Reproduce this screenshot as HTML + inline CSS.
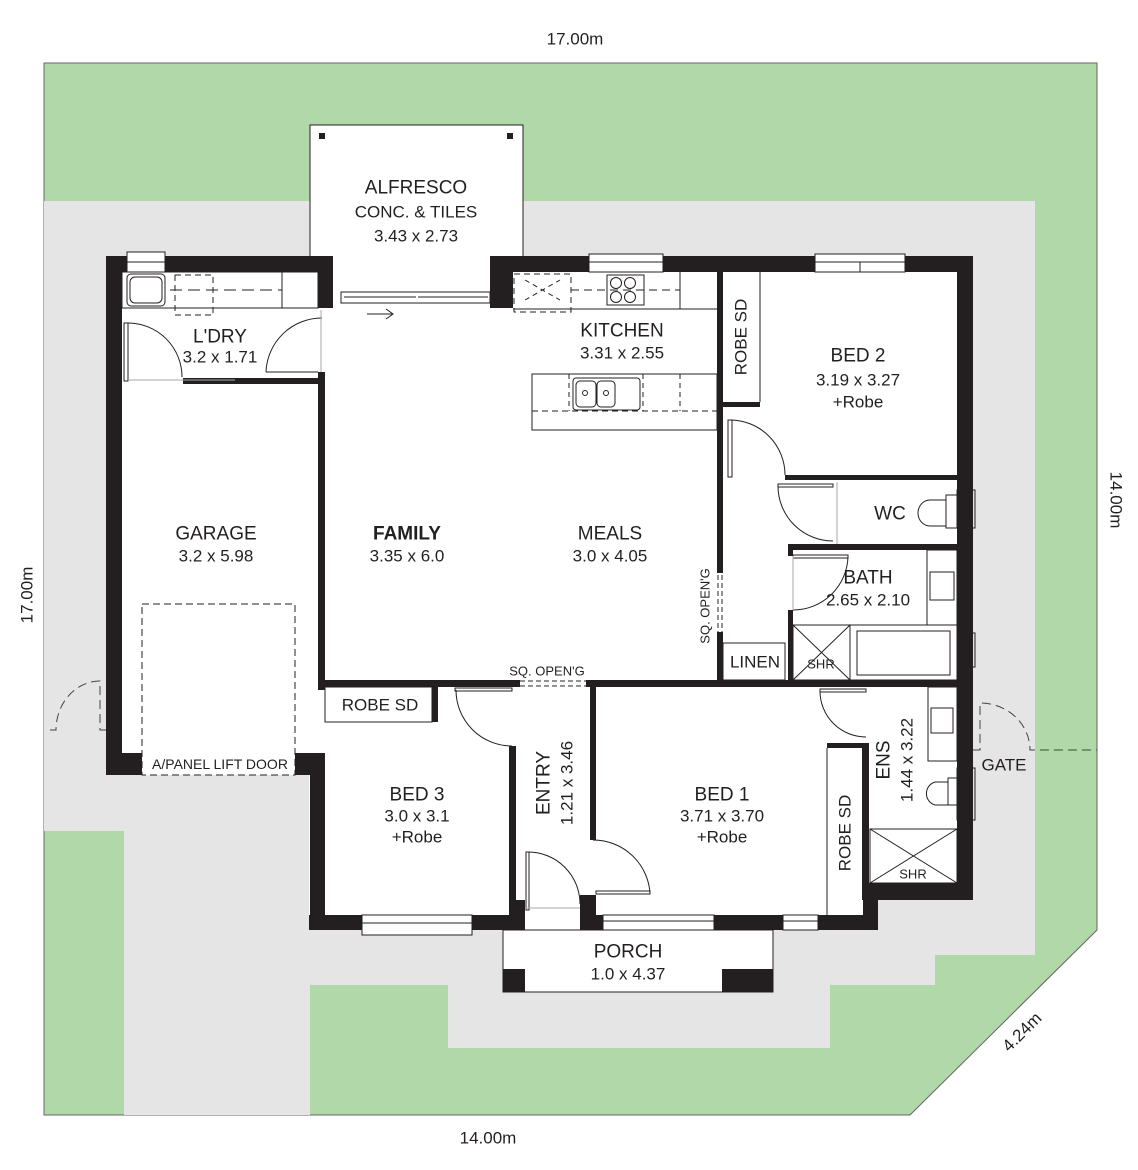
<!DOCTYPE html>
<html><head><meta charset="utf-8"><style>
html,body{margin:0;padding:0;background:#fff;}
svg{display:block;}
text{font-family:"Liberation Sans",sans-serif;fill:#231f20;}
.n{font-size:19px;}
.d{font-size:17px;}
.s{font-size:13px;}
</style></head><body>
<svg width="1138" height="1170" viewBox="0 0 1138 1170" xmlns="http://www.w3.org/2000/svg">
<!-- site -->
<polygon points="44,63 1097,63 1097,930 910,1115 44,1115" fill="#b1d8a8" stroke="#666" stroke-width="1"/>
<!-- grey paving -->
<polygon points="44,201 1035,201 1035,955 935,955 935,985 830,985 830,1048 448,1048 448,985 310,985 310,1115 124,1115 124,831 44,831" fill="#e5e5e5"/>
<!-- alfresco -->
<rect x="310" y="125" width="213" height="140" fill="#fff" stroke="#231f20" stroke-width="1"/>
<rect x="319" y="133" width="6" height="6" fill="#231f20"/>
<rect x="507" y="133" width="6" height="6" fill="#231f20"/>
<!-- house interior -->
<polygon points="106,256 973,256 973,900 878,900 878,930 309,930 309,775 106,775" fill="#fff"/>
<!-- porch -->
<rect x="503" y="930" width="270" height="62" fill="#fff" stroke="#231f20" stroke-width="1"/>
<rect x="503" y="969" width="22" height="23" fill="#231f20"/>
<rect x="722" y="969" width="51" height="23" fill="#231f20"/>
<g fill="#231f20">
<!-- outer walls -->
<rect x="106" y="256" width="227" height="16"/>
<rect x="318" y="256" width="15" height="52"/>
<rect x="490" y="256" width="483" height="16"/>
<rect x="490" y="256" width="23" height="52"/>
<rect x="106" y="256" width="16" height="519"/>
<rect x="106" y="753" width="36" height="22"/>
<rect x="295" y="753" width="23" height="22"/>
<rect x="310" y="753" width="15" height="177"/>
<rect x="309" y="915" width="216" height="15"/>
<rect x="580" y="915" width="298" height="15"/>
<rect x="509" y="900" width="16" height="30"/>
<rect x="580" y="895" width="16" height="35"/>
<rect x="863" y="883" width="15" height="47"/>
<rect x="863" y="883" width="110" height="17"/>
<rect x="957" y="256" width="16" height="644"/>
<!-- interior walls -->
<rect x="183" y="378" width="142" height="6"/>
<rect x="318" y="372" width="7" height="318"/>
<rect x="717" y="272" width="6" height="301"/>
<rect x="717" y="632" width="6" height="55"/>
<rect x="723" y="402" width="37" height="5"/>
<rect x="785" y="475" width="172" height="5"/>
<rect x="788" y="544" width="169" height="6"/>
<rect x="788" y="550" width="5" height="6"/>
<rect x="788" y="610" width="5" height="70"/>
<rect x="325" y="680" width="195" height="7"/>
<rect x="586" y="680" width="371" height="7"/>
<rect x="432" y="687" width="6" height="35"/>
<rect x="509" y="746" width="7" height="154"/>
<rect x="590" y="687" width="6" height="153"/>
<rect x="827" y="743" width="40" height="5"/>
<rect x="862" y="743" width="7" height="157"/>
</g>
<g fill="none" stroke="#231f20" stroke-width="1">
<!-- laundry bench -->
<rect x="122" y="272" width="196" height="36"/>
<rect x="127" y="274" width="38" height="32" rx="4"/>
<rect x="130" y="277" width="32" height="26" rx="5"/>
<rect x="175" y="275" width="38" height="40" stroke-dasharray="6,4"/>
<line x1="170" y1="290" x2="282" y2="290" stroke-dasharray="12,6"/>
<line x1="282" y1="272" x2="282" y2="308"/>
<!-- laundry doors -->
<rect x="124" y="323" width="4" height="58"/>
<path d="M128,323 A54,54 0 0 1 182,377"/>
<line x1="128" y1="380" x2="235" y2="380" stroke="#aaa"/>
<path d="M322,318 A56,56 0 0 0 266,372"/>
<line x1="266" y1="372" x2="318" y2="372"/>
<line x1="321" y1="310" x2="321" y2="372" stroke="#aaa"/>
<!-- sliding door -->
<rect x="341" y="292" width="149" height="11"/>
<line x1="344" y1="297" x2="416" y2="297"/>
<line x1="418" y1="297" x2="488" y2="297"/>
<path d="M367,314 H393 M386,309 L393,314 L386,319"/>
<!-- kitchen -->
<line x1="513" y1="309" x2="717" y2="309"/>
<rect x="514" y="274" width="57" height="38" stroke-dasharray="6,4"/>
<path d="M525,280 L560,300 M525,300 L560,280" stroke-dasharray="5,4"/>
<line x1="571" y1="290" x2="680" y2="290" stroke-dasharray="8,5"/>
<rect x="607" y="275" width="37" height="30"/>
<circle cx="616" cy="283" r="5.5"/><circle cx="630" cy="283" r="5.5"/>
<circle cx="616" cy="297" r="5.5"/><circle cx="630" cy="297" r="5.5"/>
<line x1="680" y1="272" x2="680" y2="309"/>
<rect x="532" y="374" width="185" height="56"/>
<line x1="532" y1="411" x2="717" y2="411" stroke-dasharray="6,4"/>
<rect x="573" y="378" width="67" height="32" rx="3"/>
<rect x="576" y="381" width="20" height="26" rx="4"/>
<rect x="597" y="381" width="18" height="26" rx="4"/>
<circle cx="585" cy="393" r="2.5"/><circle cx="606" cy="393" r="2.5"/>
<line x1="569" y1="374" x2="569" y2="411" stroke-dasharray="5,4"/>
<line x1="643" y1="374" x2="643" y2="411" stroke-dasharray="5,4"/>
<line x1="680" y1="374" x2="680" y2="411" stroke-dasharray="5,4"/>
<!-- sq openings -->
<path d="M718,575 V632 M722,575 V632" stroke-dasharray="5,3"/>
<path d="M520,681 H586 M520,686 H586" stroke-dasharray="5,3"/>
<!-- robe bed2 -->
<line x1="760" y1="272" x2="760" y2="402"/>
<!-- bed2 door -->
<rect x="728" y="420" width="4" height="57"/>
<path d="M730,420 A55,55 0 0 1 785,475"/>
<!-- wc door -->
<rect x="778" y="484" width="55" height="3"/>
<path d="M778,486 A55,55 0 0 0 833,541"/>
<line x1="837" y1="482" x2="837" y2="544" stroke="#aaa"/>
<!-- toilet wc -->
<rect x="946" y="495" width="11" height="33"/>
<rect x="957" y="490" width="18" height="38"/>
<path d="M946,500 H930 A12,13 0 0 0 930,526 H946 Z"/>
<!-- bath door -->
<rect x="793" y="555" width="55" height="3"/>
<path d="M848,557 A55,55 0 0 1 793,610"/>
<line x1="793" y1="556" x2="793" y2="610" stroke="#aaa"/>
<!-- bath fixtures -->
<rect x="927" y="550" width="30" height="75"/>
<rect x="930" y="572" width="24" height="28"/>
<rect x="793" y="625" width="57" height="55"/>
<path d="M793,625 L850,680 M850,625 L793,680"/>
<rect x="850" y="625" width="107" height="55"/>
<rect x="857" y="631" width="93" height="44"/>
<rect x="957" y="633" width="18" height="34"/>
<!-- linen -->
<rect x="723" y="643" width="62" height="37"/>
<!-- robe bed3 -->
<rect x="325" y="687" width="107" height="35"/>
<!-- bed3 door -->
<rect x="455" y="688" width="57" height="3"/>
<path d="M456,690 A56,56 0 0 0 512,746"/>
<!-- bed1 door -->
<rect x="596" y="891" width="54" height="3"/>
<path d="M593,840 A57,57 0 0 1 650,893"/>
<!-- front door -->
<rect x="526" y="852" width="3" height="58"/>
<path d="M528,852 A52,52 0 0 1 580,904"/>
<line x1="525" y1="908" x2="580" y2="908" stroke="#aaa"/>
<!-- ens door -->
<rect x="820" y="689" width="46" height="3"/>
<path d="M820,691 A46,46 0 0 0 866,737"/>
<!-- robe bed1 -->
<line x1="827" y1="748" x2="827" y2="915"/>
<!-- ens fixtures -->
<rect x="928" y="687" width="29" height="74"/>
<rect x="931" y="708" width="22" height="25"/>
<rect x="948" y="778" width="9" height="27"/>
<path d="M948,782 H935 A12,12 0 0 0 935,805 H948 Z"/>
<rect x="957" y="768" width="18" height="52"/>
<rect x="870" y="829" width="87" height="54"/>
<path d="M870,829 L957,883 M957,829 L870,883"/>
<!-- windows -->
<rect x="127" y="252" width="38" height="20" fill="#fff"/>
<line x1="127" y1="262" x2="165" y2="262"/>
<rect x="589" y="254" width="74" height="18" fill="#fff"/>
<line x1="589" y1="262" x2="663" y2="262"/>
<rect x="815" y="254" width="90" height="18" fill="#fff"/>
<line x1="815" y1="262" x2="905" y2="262"/><line x1="860" y1="262" x2="860" y2="272"/>
<rect x="362" y="915" width="110" height="20" fill="#fff"/>
<line x1="362" y1="923" x2="472" y2="923"/>
<rect x="603" y="915" width="111" height="15" fill="#fff"/>
<line x1="603" y1="921" x2="714" y2="921"/>
<rect x="783" y="915" width="35" height="15" fill="#fff"/>
<line x1="783" y1="921" x2="818" y2="921"/>
<!-- garage door / car -->
<rect x="142" y="604" width="153" height="171" stroke-dasharray="7,4"/>
<!-- gates -->
<path d="M50,730 H56 A44,49 0 0 1 100,681 V730 H106" stroke="#444" stroke-dasharray="9,5"/>
<path d="M973,750 H980 V703 A50,47 0 0 1 1030,750 H1097" stroke="#444" stroke-dasharray="9,5"/>
</g>
<rect x="143" y="754" width="151" height="20" fill="#fff"/>
<!-- labels -->
<g text-anchor="middle" dominant-baseline="central">
<text class="d" x="575" y="39">17.00m</text>
<text class="d" x="488" y="1138">14.00m</text>
<text class="d" transform="translate(27,595) rotate(-90)">17.00m</text>
<text class="d" transform="translate(1116,500) rotate(90)">14.00m</text>
<text class="d" transform="translate(1022,1032) rotate(-45)">4.24m</text>
<text class="n" x="416" y="188">ALFRESCO</text>
<text class="d" x="416" y="212">CONC. &amp; TILES</text>
<text class="d" x="416" y="236">3.43 x 2.73</text>
<text class="n" x="220" y="337">L'DRY</text>
<text class="d" x="220" y="357">3.2 x 1.71</text>
<text class="n" x="622" y="331">KITCHEN</text>
<text class="d" x="622" y="353">3.31 x 2.55</text>
<text class="d" transform="translate(741,337) rotate(-90)">ROBE SD</text>
<text class="n" x="858" y="356">BED 2</text>
<text class="d" x="858" y="380">3.19 x 3.27</text>
<text class="d" x="858" y="402">+Robe</text>
<text class="n" x="216" y="534">GARAGE</text>
<text class="d" x="216" y="556">3.2 x 5.98</text>
<text class="n" x="407" y="534" font-weight="bold">FAMILY</text>
<text class="d" x="407" y="556">3.35 x 6.0</text>
<text class="n" x="610" y="534">MEALS</text>
<text class="d" x="610" y="556">3.0 x 4.05</text>
<text class="n" x="890" y="514">WC</text>
<text class="n" x="868" y="578">BATH</text>
<text class="d" x="868" y="600">2.65 x 2.10</text>
<text class="s" transform="translate(705,606) rotate(-90)">SQ. OPEN'G</text>
<text class="d" x="755" y="662">LINEN</text>
<text class="s" x="821" y="664">SHR</text>
<text class="s" x="547" y="671">SQ. OPEN'G</text>
<text class="d" x="380" y="705">ROBE SD</text>
<text class="n" x="417" y="795">BED 3</text>
<text class="d" x="417" y="816">3.0 x 3.1</text>
<text class="d" x="417" y="837">+Robe</text>
<text class="n" transform="translate(544,783) rotate(-90)">ENTRY</text>
<text class="d" transform="translate(567,783) rotate(-90)">1.21 x 3.46</text>
<text class="n" x="722" y="795">BED 1</text>
<text class="d" x="722" y="816">3.71 x 3.70</text>
<text class="d" x="722" y="837">+Robe</text>
<text class="d" transform="translate(845,833) rotate(-90)">ROBE SD</text>
<text class="n" transform="translate(884,760) rotate(-90)">ENS</text>
<text class="d" transform="translate(907,760) rotate(-90)">1.44 x 3.22</text>
<text class="s" x="913" y="874">SHR</text>
<text class="d" x="1004" y="765">GATE</text>
<text x="220" y="764" font-size="14">A/PANEL LIFT DOOR</text>
<text class="n" x="628" y="952">PORCH</text>
<text class="d" x="628" y="974">1.0 x 4.37</text>
</g>
</svg>
</body></html>
